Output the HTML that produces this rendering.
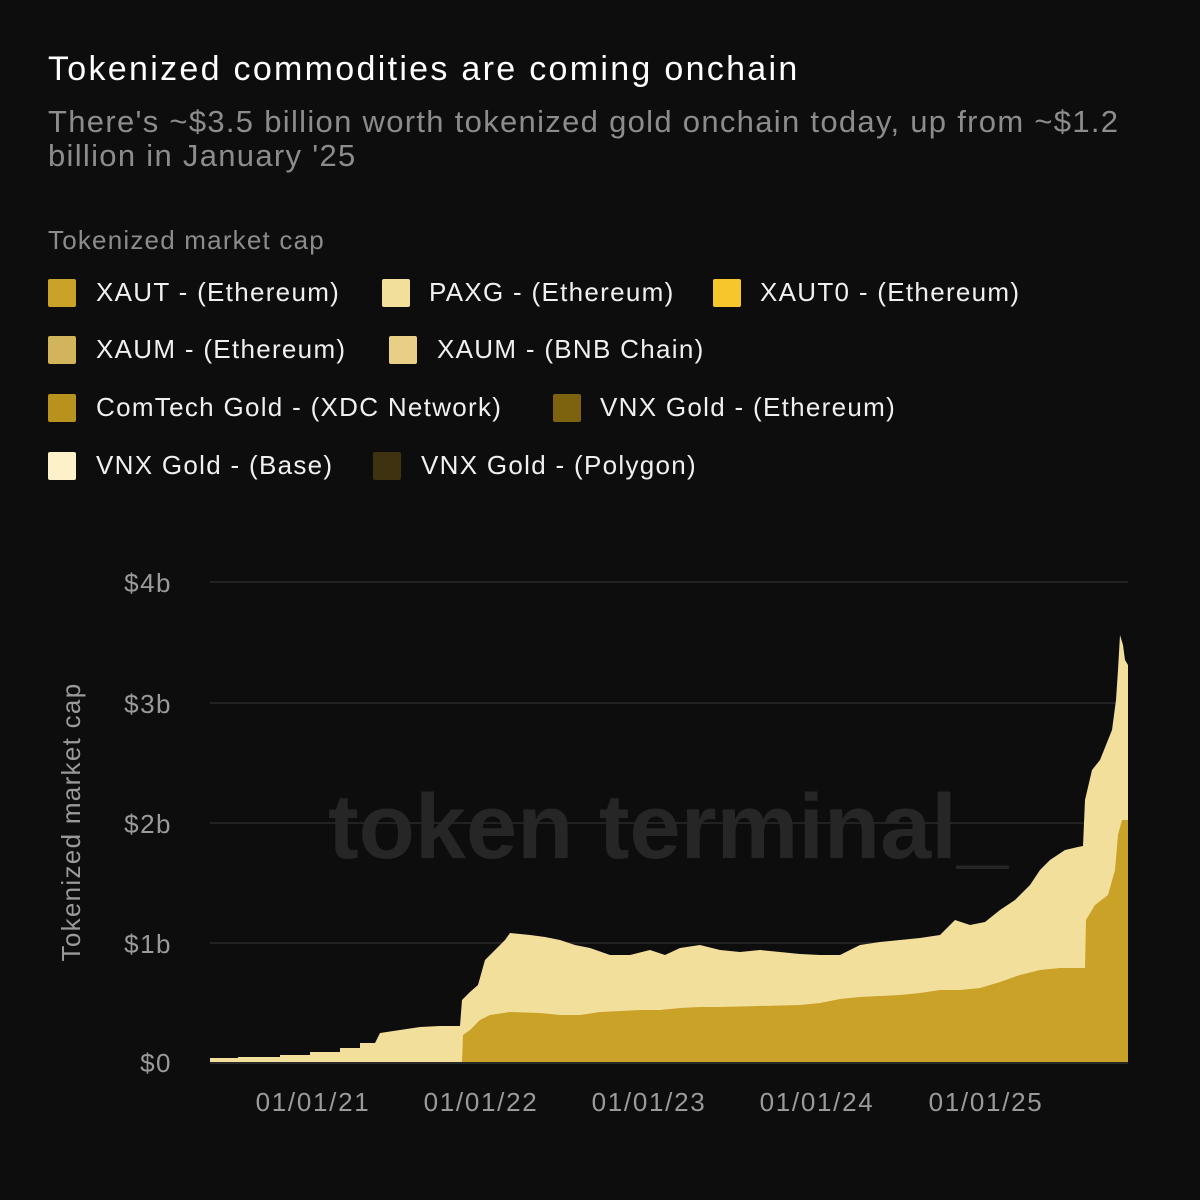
<!DOCTYPE html>
<html><head><meta charset="utf-8"><style>
body{margin:0;width:1200px;height:1200px;background:#0d0d0d;font-family:"Liberation Sans",sans-serif;position:relative;overflow:hidden}
.t{position:absolute;white-space:nowrap}
.sw{position:absolute;width:28px;height:28px;border-radius:2px}
.lg{position:absolute;color:#f0f0f0;font-size:26px;white-space:nowrap;letter-spacing:1.3px}
</style></head><body>
<div class="t" style="left:48px;top:50px;font-size:34px;color:#fff;letter-spacing:2.3px">Tokenized commodities are coming onchain</div>
<div class="t" style="left:48px;top:105px;font-size:31px;color:#8c8c8c;line-height:34px;white-space:normal;width:1110px;letter-spacing:1.3px">There's ~$3.5 billion worth tokenized gold onchain today, up from ~$1.2 billion in January '25</div>
<div class="t" style="left:48px;top:225px;font-size:26px;color:#8c8c8c;letter-spacing:1.2px">Tokenized market cap</div>

<div class="sw" style="left:48px;top:279px;background:#c9a227"></div><div class="lg" style="left:96px;top:277px">XAUT - (Ethereum)</div>
<div class="sw" style="left:382px;top:279px;background:#f3df9c"></div><div class="lg" style="left:429px;top:277px">PAXG - (Ethereum)</div>
<div class="sw" style="left:713px;top:279px;background:#f6c62c"></div><div class="lg" style="left:760px;top:277px">XAUT0 - (Ethereum)</div>

<div class="sw" style="left:48px;top:336px;background:#d2b45a"></div><div class="lg" style="left:96px;top:334px">XAUM - (Ethereum)</div>
<div class="sw" style="left:389px;top:336px;background:#e8cf85"></div><div class="lg" style="left:437px;top:334px">XAUM - (BNB Chain)</div>

<div class="sw" style="left:48px;top:394px;background:#b8921c"></div><div class="lg" style="left:96px;top:392px">ComTech Gold - (XDC Network)</div>
<div class="sw" style="left:553px;top:394px;background:#7d6210"></div><div class="lg" style="left:600px;top:392px">VNX Gold - (Ethereum)</div>

<div class="sw" style="left:48px;top:452px;background:#fdf1c9"></div><div class="lg" style="left:96px;top:450px">VNX Gold - (Base)</div>
<div class="sw" style="left:373px;top:452px;background:#3e3210"></div><div class="lg" style="left:421px;top:450px">VNX Gold - (Polygon)</div>

<svg width="1200" height="1200" style="position:absolute;left:0;top:0">
<g stroke="#2a2a2a" stroke-width="1.5">
<line x1="210" y1="582" x2="1128" y2="582"/><line x1="210" y1="703" x2="1128" y2="703"/><line x1="210" y1="823" x2="1128" y2="823"/><line x1="210" y1="943" x2="1128" y2="943"/>
</g>
<text x="668" y="858" font-size="92" font-weight="bold" fill="#262626" text-anchor="middle" font-family="Liberation Sans,sans-serif">token terminal_</text>
<path fill="#f3df9c" d="M210,1062 L210,1058 238,1058 238,1057 280,1057 280,1055 310,1055 310,1052 340,1052 340,1048 360,1048 360,1043 375,1043 380,1033 400,1030 420,1027 440,1026 460,1026 462,1000 470,992 478,985 485,960 495,950 505,940 510,933 530,935 545,937 560,940 575,945 590,948 610,955 630,955 650,950 665,955 680,948 700,945 720,950 740,952 760,950 780,952 800,954 820,955 840,955 860,945 880,942 900,940 920,938 940,935 955,920 970,925 985,922 1000,910 1015,900 1030,885 1040,870 1050,860 1065,850 1078,847 1083,846 1085,800 1092,770 1100,760 1108,740 1112,730 1116,700 1118,670 1120,635 1123,645 1125,660 1128,665 1128,1062 Z"/>
<path fill="#c9a227" d="M462,1062 L463,1035 470,1030 480,1020 490,1015 510,1012 540,1013 560,1015 580,1015 600,1012 620,1011 640,1010 660,1010 680,1008 700,1007 720,1007 760,1006 800,1005 820,1003 840,999 860,997 880,996 900,995 920,993 940,990 960,990 980,988 990,985 1000,982 1020,975 1040,970 1060,968 1085,968 1086,920 1095,905 1108,895 1115,870 1118,835 1122,820 1128,820 1128,1062 Z"/>
<line x1="210" y1="1063" x2="1128" y2="1063" stroke="#333" stroke-width="1.5"/>
<g font-size="26" fill="#9a9a9a" font-family="Liberation Sans,sans-serif" text-anchor="end" letter-spacing="1.5">
<text x="172" y="592">$4b</text><text x="172" y="713">$3b</text><text x="172" y="833">$2b</text><text x="172" y="953">$1b</text><text x="172" y="1072">$0</text>
</g>
<g font-size="26" fill="#9a9a9a" font-family="Liberation Sans,sans-serif" text-anchor="middle" letter-spacing="1.7">
<text x="313" y="1111">01/01/21</text><text x="481" y="1111">01/01/22</text><text x="649" y="1111">01/01/23</text><text x="817" y="1111">01/01/24</text><text x="986" y="1111">01/01/25</text>
</g>
<text transform="translate(80,822) rotate(-90)" font-size="26" fill="#9a9a9a" text-anchor="middle" font-family="Liberation Sans,sans-serif" letter-spacing="1.3">Tokenized market cap</text>
</svg>
</body></html>
